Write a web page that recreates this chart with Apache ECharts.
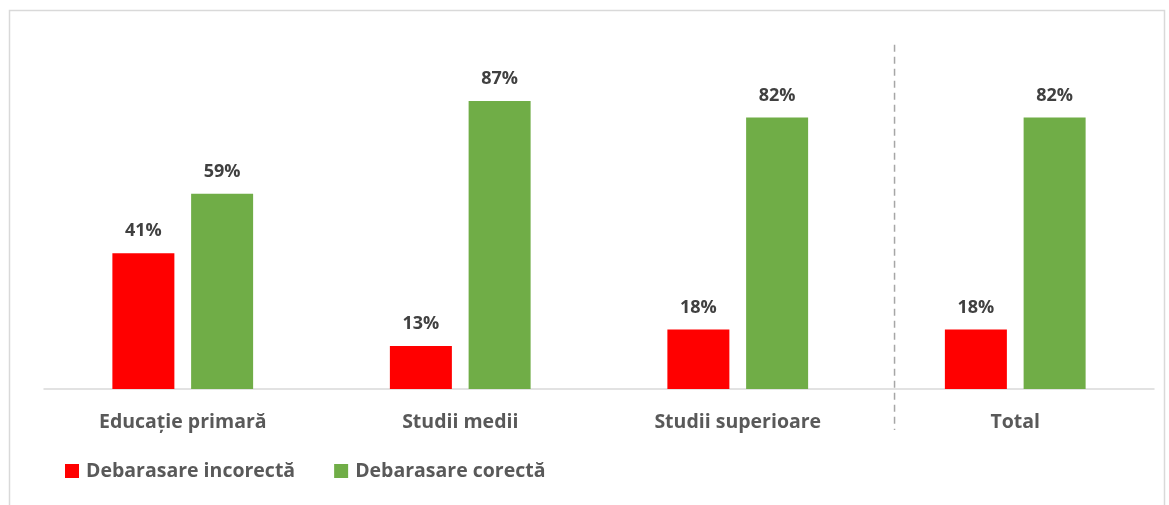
<!DOCTYPE html>
<html>
<head>
<meta charset="utf-8">
<script src="https://cdn.jsdelivr.net/npm/echarts@6/dist/echarts.min.js"></script>
<style>
html,body{margin:0;padding:0;background:#fff;}
#c{width:1169px;height:505px;}
</style>
</head>
<body>
<div id="c"></div>
<script>
var categories = ['Educație primară', 'Studii medii', 'Studii superioare', 'Total'];
var seriesNames = ['Debarasare incorectă', 'Debarasare corectă'];
var incorecta = [41, 13, 18, 18];
var corecta = [59, 87, 82, 82];
var separatorPos = 3.065; // position of dashed separator on 0..4 scale
var separatorY = [104, -12.4];

var chart = echarts.init(document.getElementById('c'));
var FONT = '"Open Sans"';
var labelStyle = {
  show: true, position: 'top', distance: 13,
  formatter: '{c}%', color: '#404040', fontFamily: FONT,
  fontWeight: 'bold', fontSize: 18
};
chart.setOption({
  animation: false,
  graphic: [{
    type: 'rect', z: -1,
    shape: {x: 9.5, y: 10.5, width: 1155, height: 500},
    style: {fill: '#fff', stroke: '#d9d9d9', lineWidth: 1.5}
  }],
  grid: {left: 44, right: 15, top: 58, bottom: 116},
  legend: {
    left: 60, top: 456, itemWidth: 14, itemHeight: 14, itemGap: 39,
    icon: 'rect',
    textStyle: {color: '#595959', fontFamily: FONT, fontWeight: 'bold', fontSize: 19.5, padding: [0, 0, 0, 2]},
    data: seriesNames
  },
  xAxis: [{
    type: 'category', data: categories,
    axisLine: {lineStyle: {color: '#d9d9d9', width: 1.5}},
    axisTick: {show: false},
    axisLabel: {color: '#595959', fontFamily: FONT, fontWeight: 'bold', fontSize: 19.5, margin: 23}
  }, {
    type: 'value', min: 0, max: 4, show: false
  }],
  yAxis: {type: 'value', min: 0, max: 100, show: false, splitLine: {show: false}},
  series: [{
    name: seriesNames[0], type: 'bar', data: incorecta,
    barWidth: 62, barGap: '27%',
    itemStyle: {color: '#ff0000'}, label: labelStyle
  }, {
    name: seriesNames[1], type: 'bar', data: corecta,
    barWidth: 62,
    itemStyle: {color: '#70ad47'}, label: labelStyle
  }, {
    type: 'line', xAxisIndex: 1, clip: false, symbol: 'none', silent: true,
    data: [[separatorPos, separatorY[0]], [separatorPos, separatorY[1]]],
    lineStyle: {color: '#a6a6a6', width: 1.5, type: [7, 5]},
    z: 1
  }]
});
</script>
</body>
</html>
